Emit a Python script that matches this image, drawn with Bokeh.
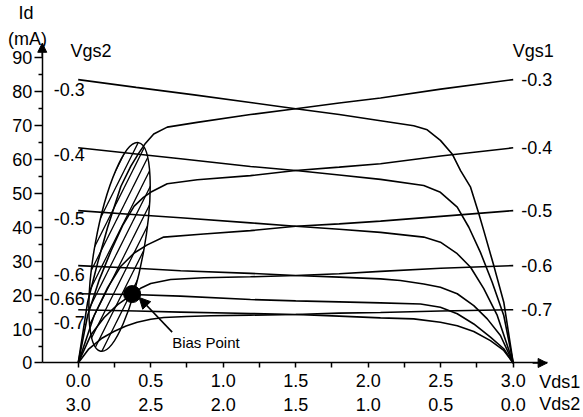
from bokeh.plotting import figure
from bokeh.models import (Range1d, FixedTicker, ColumnDataSource, LabelSet, Label,
                          Arrow, NormalHead)
from bokeh.core.properties import value
from bokeh.embed import file_html
from bokeh.resources import INLINE

# ---------------- data ----------------
# Vgs1 family (plotted against Vds1, rising from the origin)
VGS1_LABELS = ["-0.3", "-0.4", "-0.5", "-0.6", "-0.7"]
VGS1_03_X = [0, 0.065, 0.134, 0.203, 0.294, 0.363, 0.42, 0.46, 0.521, 0.614, 0.82, 1.188, 1.5, 1.8, 2.085, 2.5, 3.0]
VGS1_03_Y = [0, 17.9, 29.5, 40.0, 52.0, 58.0, 62.0, 64.5, 67.5, 69.5, 70.9, 73.2, 74.9, 76.6, 78.1, 80.7, 83.5]
VGS1_04_X = [0, 0.065, 0.145, 0.226, 0.306, 0.386, 0.45, 0.499, 0.614, 0.821, 1.188, 1.5, 1.8, 2.085, 2.5, 3.0]
VGS1_04_Y = [0, 14.0, 24.5, 33.0, 40.5, 46.2, 48.8, 50.3, 52.8, 54.0, 55.2, 56.7, 57.7, 58.7, 61.0, 63.4]
VGS1_05_X = [0, 0.11, 0.203, 0.294, 0.386, 0.476, 0.59, 0.866, 1.188, 1.5, 1.8, 2.085, 2.5, 3.0]
VGS1_05_Y = [0, 14.0, 22.2, 28.5, 32.4, 34.8, 37.1, 38.0, 39.0, 40.3, 41.0, 41.8, 43.2, 44.9]
VGS1_06_X = [0, 0.088, 0.179, 0.272, 0.372, 0.43, 0.5, 0.637, 0.866, 1.188, 1.5, 1.8, 2.085, 2.5, 3.0]
VGS1_06_Y = [0, 8.3, 13.4, 17.2, 20.2, 22.0, 23.4, 24.6, 25.1, 25.4, 25.8, 26.3, 27.0, 27.9, 28.7]
VGS1_07_X = [0, 0.07, 0.16, 0.246, 0.33, 0.407, 0.5, 0.59, 0.75, 0.915, 1.188, 1.5, 1.8, 2.085, 2.5, 3.0]
VGS1_07_Y = [0, 4.0, 7.2, 9.3, 10.9, 12.0, 12.9, 13.4, 13.7, 13.9, 14.1, 14.3, 14.7, 14.9, 15.3, 15.7]

# Vgs2 family (plotted against Vds2 = 3 - Vds1, falling to zero at Vds1 = 3)
VGS2_LABELS = ["-0.3", "-0.4", "-0.5", "-0.6", "-0.66", "-0.7"]
VGS2_03_X = [0, 0.4, 0.8, 1.2, 1.5, 1.8, 2.085, 2.314, 2.407, 2.498, 2.579, 2.637, 2.706, 2.763, 2.797, 2.866, 2.935, 3.0]
VGS2_03_Y = [83.5, 81.2, 79.0, 76.7, 74.9, 73.2, 71.4, 69.9, 68.7, 65.6, 61.6, 56.7, 51.8, 44.0, 39.0, 28.7, 17.9, 0]
VGS2_04_X = [0, 0.4, 0.706, 1.188, 1.5, 1.8, 2.085, 2.383, 2.498, 2.614, 2.694, 2.774, 2.855, 2.935, 3.0]
VGS2_04_Y = [63.4, 61.6, 60.2, 57.9, 56.7, 55.4, 54.1, 52.3, 50.3, 45.9, 40.0, 32.6, 23.8, 14.0, 0]
VGS2_05_X = [0, 0.4, 0.706, 1.188, 1.5, 1.8, 2.085, 2.383, 2.498, 2.614, 2.706, 2.797, 2.890, 3.0]
VGS2_05_Y = [44.9, 43.7, 42.8, 41.3, 40.3, 39.4, 38.5, 37.1, 35.6, 32.2, 28.2, 21.9, 14.0, 0]
VGS2_06_X = [0, 0.4, 0.706, 1.188, 1.5, 1.8, 2.085, 2.222, 2.383, 2.498, 2.614, 2.728, 2.821, 2.912, 3.0]
VGS2_06_Y = [28.7, 27.9, 27.2, 26.4, 25.8, 25.3, 24.8, 24.3, 23.3, 22.3, 20.4, 16.9, 13.0, 8.1, 0]
VGS2_066_X = [0, 0.372, 0.705, 1.188, 1.5, 1.8, 2.085, 2.361, 2.498, 2.614, 2.728, 2.843, 2.935, 3.0]
VGS2_066_Y = [20.4, 20.2, 19.7, 18.7, 18.3, 18.0, 17.7, 17.4, 16.4, 14.5, 11.5, 7.6, 4.2, 0]
VGS2_07_X = [0, 0.4, 0.705, 1.188, 1.5, 1.8, 2.085, 2.314, 2.498, 2.614, 2.728, 2.843, 2.935, 3.0]
VGS2_07_Y = [15.7, 15.3, 15.0, 14.6, 14.3, 13.8, 13.3, 13.0, 12.0, 11.0, 9.3, 6.6, 3.7, 0]

# bias point and hatched operating region
BIAS_VDS1 = 0.372
BIAS_ID = 20.3
REGION_VDS1 = 0.285
REGION_ID = 34.2

# axes
VDS1_TICKS = [0.0, 0.5, 1.0, 1.5, 2.0, 2.5, 3.0]
VDS1_TICK_LABELS = ["0.0", "0.5", "1.0", "1.5", "2.0", "2.5", "3.0"]
VDS2_TICK_LABELS = ["3.0", "2.5", "2.0", "1.5", "1.0", "0.5", "0.0"]
VDS_MINOR = [0.25, 0.75, 1.25, 1.75, 2.25, 2.75]
ID_TICKS = [0, 10, 20, 30, 40, 50, 60, 70, 80, 90]
ID_MINOR = [5, 15, 25, 35, 45, 55, 65, 75, 85]

# ---------------- style ----------------
FONT = "Liberation Sans"
FS = "18px"
INK = "#000000"
LW = 1.6
W, H = 583, 417
# visible window (the whole canvas is the plot frame)
X0, X1 = -0.5359, 3.4848
Y0, Y1 = -16.06, 106.81
# extent of the drawn axes
AX_X0, AX_X1 = -0.248, 3.234
AX_Y1 = 94.2
LEFT_LABEL_X = 0.045
LEFT_LABEL_DY = [-2.9, -2.0, -2.3, -2.6, -1.5, -3.9]
RIGHT_LABEL_X = 3.055

p = figure(width=W, height=H, output_backend="svg", toolbar_location=None,
           x_range=Range1d(X0, X1), y_range=Range1d(Y0, Y1),
           min_border_left=0, min_border_right=0, min_border_top=0, min_border_bottom=0)
p.outline_line_color = None
p.grid.visible = False
p.background_fill_color = "white"
p.border_fill_color = "white"

# x axis
xa = p.xaxis[0]
xa.fixed_location = 0
xa.bounds = (AX_X0, AX_X1)
xa.ticker = FixedTicker(ticks=VDS1_TICKS, minor_ticks=VDS_MINOR)
xa.major_label_overrides = {t: f"{a}\n{b}" for t, a, b in zip(VDS1_TICKS, VDS1_TICK_LABELS, VDS2_TICK_LABELS)}
xa.major_label_text_font = FONT
xa.major_label_text_font_size = FS
xa.major_label_text_color = INK
xa.major_label_text_line_height = 1.2
xa.major_label_standoff = 3
xa.major_tick_out = 5
xa.major_tick_in = 0
xa.minor_tick_out = 5
xa.minor_tick_in = 0
xa.axis_line_width = 1.5
xa.major_tick_line_width = 1.5
xa.minor_tick_line_width = 1.5
xa.axis_line_color = INK
xa.major_tick_line_color = INK
xa.minor_tick_line_color = INK

# y axis
ya = p.yaxis[0]
ya.fixed_location = AX_X0
ya.bounds = (0, AX_Y1)
ya.ticker = FixedTicker(ticks=ID_TICKS, minor_ticks=ID_MINOR)
ya.major_label_text_font = FONT
ya.major_label_text_font_size = FS
ya.major_label_text_color = INK
ya.major_label_standoff = 2
ya.major_tick_out = 8
ya.major_tick_in = 0
ya.minor_tick_out = 4
ya.minor_tick_in = 0
ya.axis_line_width = 1.5
ya.major_tick_line_width = 1.5
ya.minor_tick_line_width = 1.5
ya.axis_line_color = INK
ya.major_tick_line_color = INK
ya.minor_tick_line_color = INK

# axis arrowheads
p.add_layout(Arrow(end=NormalHead(size=9, fill_color=INK, line_color=INK, line_width=1),
                   x_start=AX_X0, y_start=AX_Y1 - 4, x_end=AX_X0, y_end=AX_Y1, line_color=INK, line_width=1.5))
p.add_layout(Arrow(end=NormalHead(size=9, fill_color=INK, line_color=INK, line_width=1),
                   x_start=AX_X1 - 0.1, y_start=0, x_end=AX_X1, y_end=0, line_color=INK, line_width=1.5))

# hatched region
p.ellipse(x=[REGION_VDS1], y=[REGION_ID], width=49, height=212, angle=-10.3, angle_units="deg",
          width_units="screen", height_units="screen",
          fill_color=None, line_color=INK, line_width=1.5,
          hatch_pattern="/", hatch_color=INK, hatch_scale=17, hatch_weight=1.3)

vgs1 = [(VGS1_03_X, VGS1_03_Y), (VGS1_04_X, VGS1_04_Y), (VGS1_05_X, VGS1_05_Y),
        (VGS1_06_X, VGS1_06_Y), (VGS1_07_X, VGS1_07_Y)]
vgs2 = [(VGS2_03_X, VGS2_03_Y), (VGS2_04_X, VGS2_04_Y), (VGS2_05_X, VGS2_05_Y),
        (VGS2_06_X, VGS2_06_Y), (VGS2_066_X, VGS2_066_Y), (VGS2_07_X, VGS2_07_Y)]
for xs, ys in vgs1 + vgs2:
    p.line(xs, ys, line_color=INK, line_width=LW)

# bias point
p.scatter(x=[BIAS_VDS1], y=[BIAS_ID], size=17, color=INK)

# curve labels
right_src = ColumnDataSource(dict(x=[RIGHT_LABEL_X] * len(vgs1), y=[c[1][-1] for c in vgs1], t=VGS1_LABELS))
p.add_layout(LabelSet(x="x", y="y", text="t", source=right_src, text_font=value(FONT),
                      text_font_size=FS, text_color=INK, text_baseline="middle", text_align="left"))
left_src = ColumnDataSource(dict(x=[LEFT_LABEL_X] * len(vgs2),
                                 y=[c[1][0] + d for c, d in zip(vgs2, LEFT_LABEL_DY)], t=VGS2_LABELS))
p.add_layout(LabelSet(x="x", y="y", text="t", source=left_src, text_font=value(FONT),
                      text_font_size=FS, text_color=INK, text_baseline="middle", text_align="right"))

def lab(x, y, text, size=FS, align="left"):
    p.add_layout(Label(x=x, y=y, text=text, text_font=FONT, text_font_size=size, text_color=INK,
                       text_baseline="middle", text_align=align))

lab(-0.053, 91.9, "Vgs2")
lab(2.997, 91.9, "Vgs1")
lab(-0.36, 103.1, "Id", align="center")
lab(-0.35, 95.5, "(mA)", align="center")
lab(3.18, -5.6, "Vds1")
lab(3.18, -12.0, "Vds2")
lab(0.648, 5.9, "Bias Point", size="15px")

p.add_layout(Arrow(end=NormalHead(size=11, fill_color=INK, line_color=INK, line_width=1),
                   x_start=0.648, y_start=9.1, x_end=0.42, y_end=19.3, line_color=INK, line_width=1.6))

open("out.html", "w").write(file_html(p, INLINE))
